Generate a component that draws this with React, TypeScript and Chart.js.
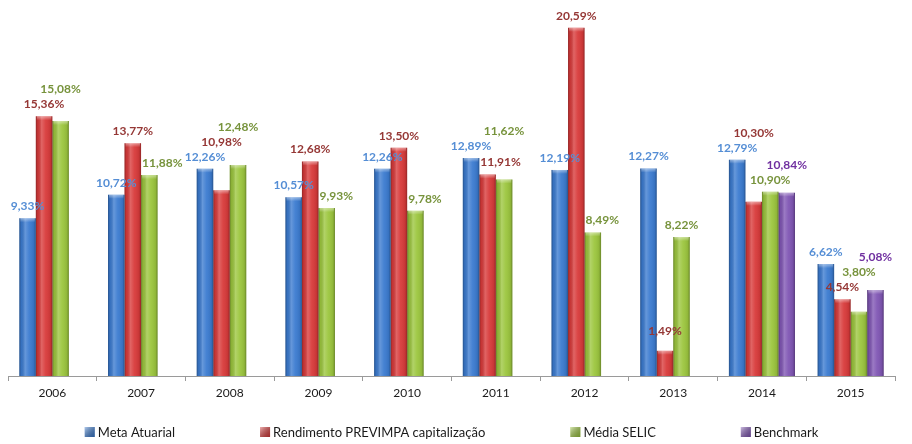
import React, { useEffect, useRef } from "react";
import { Chart, registerables } from "chart.js";

Chart.register(...registerables);

const years = ["2006", "2007", "2008", "2009", "2010", "2011", "2012", "2013", "2014", "2015"];
const metaAtuarial = [9.33, 10.72, 12.26, 10.57, 12.26, 12.89, 12.19, 12.27, 12.79, 6.62];
const rendimentoPrevimpa = [15.36, 13.77, 10.98, 12.68, 13.5, 11.91, 20.59, 1.49, 10.3, 4.54];
const mediaSelic = [15.08, 11.88, 12.48, 9.93, 9.78, 11.62, 8.49, 8.22, 10.9, 3.8];
const benchmark = [null, null, null, null, null, null, null, null, 10.84, 5.08];

const seriesNames = ["Meta Atuarial", "Rendimento PREVIMPA capitalização", "Média SELIC", "Benchmark"];
const barColors = ["#3B7BD0", "#D83A3A", "#9CC63E", "#8056B4"];
const labelColors = ["#558ED5", "#953735", "#77933C", "#7030A0"];

const FONT = "Lato, 'Open Sans', sans-serif";

const fmt = (v: number) => v.toFixed(2).replace(".", ",") + "%";

const barShadePlugin = {
  id: "barShade",
  afterDatasetsDraw(chart: any) {
    const ctx = chart.ctx;
    ctx.save();
    chart.data.datasets.forEach((ds: any, di: number) => {
      const meta = chart.getDatasetMeta(di);
      meta.data.forEach((el: any, i: number) => {
        if (ds.data[i] == null) return;
        const { x, y, base, width } = el.getProps(["x", "y", "base", "width"], true);
        const l = x - width / 2;
        const r = x + width / 2;
        const g = ctx.createLinearGradient(l, 0, r, 0);
        g.addColorStop(0, "rgba(0,0,0,0.32)");
        g.addColorStop(0.12, "rgba(0,0,0,0.08)");
        g.addColorStop(0.35, "rgba(255,255,255,0.22)");
        g.addColorStop(0.6, "rgba(255,255,255,0.05)");
        g.addColorStop(0.88, "rgba(0,0,0,0.08)");
        g.addColorStop(1, "rgba(0,0,0,0.32)");
        ctx.fillStyle = g;
        ctx.fillRect(l, y, width, base - y);
        const cap = Math.min(4, base - y);
        const g2 = ctx.createLinearGradient(0, y, 0, y + cap);
        g2.addColorStop(0, "rgba(255,255,255,0.45)");
        g2.addColorStop(1, "rgba(255,255,255,0)");
        ctx.fillStyle = g2;
        ctx.fillRect(l + 1, y, width - 2, cap);
      });
    });
    ctx.restore();
  },
};

const valueLabelPlugin = {
  id: "valueLabels",
  afterDatasetsDraw(chart: any) {
    const ctx = chart.ctx;
    ctx.save();
    ctx.font = `bold 12px ${FONT}`;
    ctx.textAlign = "center";
    ctx.textBaseline = "bottom";
    const h = 14;
    const n = chart.data.labels.length;
    for (let i = 0; i < n; i++) {
      const bars: { di: number; l: number; r: number; t: number }[] = [];
      chart.data.datasets.forEach((ds: any, di: number) => {
        if (ds.data[i] == null) return;
        const el = chart.getDatasetMeta(di).data[i];
        const { x, y, width } = el.getProps(["x", "y", "width"], true);
        bars.push({ di, l: x - width / 2, r: x + width / 2, t: y });
      });
      const hitsBar = (di: number, l: number, r: number, bottom: number) =>
        bars.some((b) => b.di !== di && l < b.r && r > b.l && bottom > b.t);
      const placed: { l: number; r: number; t: number; b: number }[] = [];
      chart.data.datasets.forEach((ds: any, di: number) => {
        const v = ds.data[i];
        if (v == null) return;
        const el = chart.getDatasetMeta(di).data[i];
        const { x: bx, y } = el.getProps(["x", "y"], true);
        const text = fmt(v);
        const w = ctx.measureText(text).width;
        let bottom = y - 6;
        let x = bx;
        const leftHit = bars.find((b) => b.di < di && x - w / 2 < b.r && bottom > b.t);
        const rightHit = bars.find((b) => b.di > di && x + w / 2 > b.l && bottom > b.t);
        if (leftHit && rightHit) {
          const lifted = Math.min(leftHit.t, rightHit.t) - 3;
          // squeezed between taller bars: lift above them if not too far
          if (bottom - lifted < 60) bottom = lifted;
          else bottom = y - 14;
        } else if (leftHit) {
          const nx = leftHit.r + w / 2 + 1;
          if (!hitsBar(di, nx - w / 2, nx + w / 2, bottom)) x = nx;
        }
        let moved = true;
        while (moved) {
          moved = false;
          for (const p of placed) {
            const l = x - w / 2, r = x + w / 2;
            if (l < p.r && r > p.l && bottom - h < p.b && bottom > p.t) {
              bottom = p.t - 1;
              moved = true;
            }
          }
        }
        placed.push({ l: x - w / 2, r: x + w / 2, t: bottom - h, b: bottom });
        ctx.fillStyle = labelColors[di];
        ctx.fillText(text, x, bottom);
      });
    }
    ctx.restore();
  },
};

const legendPlugin = {
  id: "customLegend",
  afterDraw(chart: any) {
    const ctx = chart.ctx;
    ctx.save();
    ctx.font = `13px ${FONT}`;
    ctx.textBaseline = "middle";
    ctx.textAlign = "left";
    const box = 10;
    const gap = 3;
    const spacing = 85;
    const widths = seriesNames.map((s) => box + gap + ctx.measureText(s).width);
    const total = widths.reduce((a, b) => a + b, 0) + spacing * (widths.length - 1);
    const area = chart.chartArea;
    let x = (area.left + area.right) / 2 - total / 2;
    const cy = chart.height - 12;
    seriesNames.forEach((s, i) => {
      const g = ctx.createLinearGradient(x, cy - box / 2, x + box, cy + box / 2);
      g.addColorStop(0, "rgba(255,255,255,0.6)");
      g.addColorStop(1, "rgba(0,0,0,0.25)");
      ctx.fillStyle = barColors[i];
      ctx.fillRect(x, cy - box / 2, box, box);
      ctx.fillStyle = g;
      ctx.fillRect(x, cy - box / 2, box, box);
      ctx.fillStyle = "#1a1a1a";
      ctx.fillText(s, x + box + gap, cy + 1);
      x += widths[i] + spacing;
    });
    ctx.restore();
  },
};

export default function App() {
  const ref = useRef<HTMLCanvasElement | null>(null);

  useEffect(() => {
    document.body.style.margin = "0";
    const canvas = ref.current;
    if (!canvas) return;
    const seriesData = [metaAtuarial, rendimentoPrevimpa, mediaSelic, benchmark];
    const chart = new Chart(canvas, {
      type: "bar",
      data: {
        labels: years,
        datasets: seriesNames.map((name, i) => ({
          label: name,
          data: seriesData[i] as any,
          backgroundColor: barColors[i],
          borderWidth: 0,
          categoryPercentage: 0.745,
          barPercentage: 1,
        })),
      },
      options: {
        animation: false,
        responsive: false,
        maintainAspectRatio: false,
        layout: { padding: { left: 8, right: 17, top: 4, bottom: 38.6 } },
        plugins: {
          legend: { display: false },
          tooltip: { enabled: false },
        },
        scales: {
          x: {
            grid: {
              display: true,
              drawOnChartArea: false,
              drawTicks: true,
              tickLength: 5,
              color: "#9a9a9a",
              offset: true,
            },
            border: { display: true, color: "#9a9a9a", width: 1 },
            ticks: {
              color: "#1a1a1a",
              font: { family: FONT, size: 12 },
              padding: 5,
            },
          },
          y: {
            display: false,
            min: 0,
            max: 22,
          },
        },
      },
      plugins: [barShadePlugin, valueLabelPlugin, legendPlugin],
    });
    return () => chart.destroy();
  }, []);

  return (
    <div style={{ width: 912, height: 444, background: "#fff" }}>
      <canvas ref={ref} width={912} height={444} style={{ display: "block" }} />
    </div>
  );
}
